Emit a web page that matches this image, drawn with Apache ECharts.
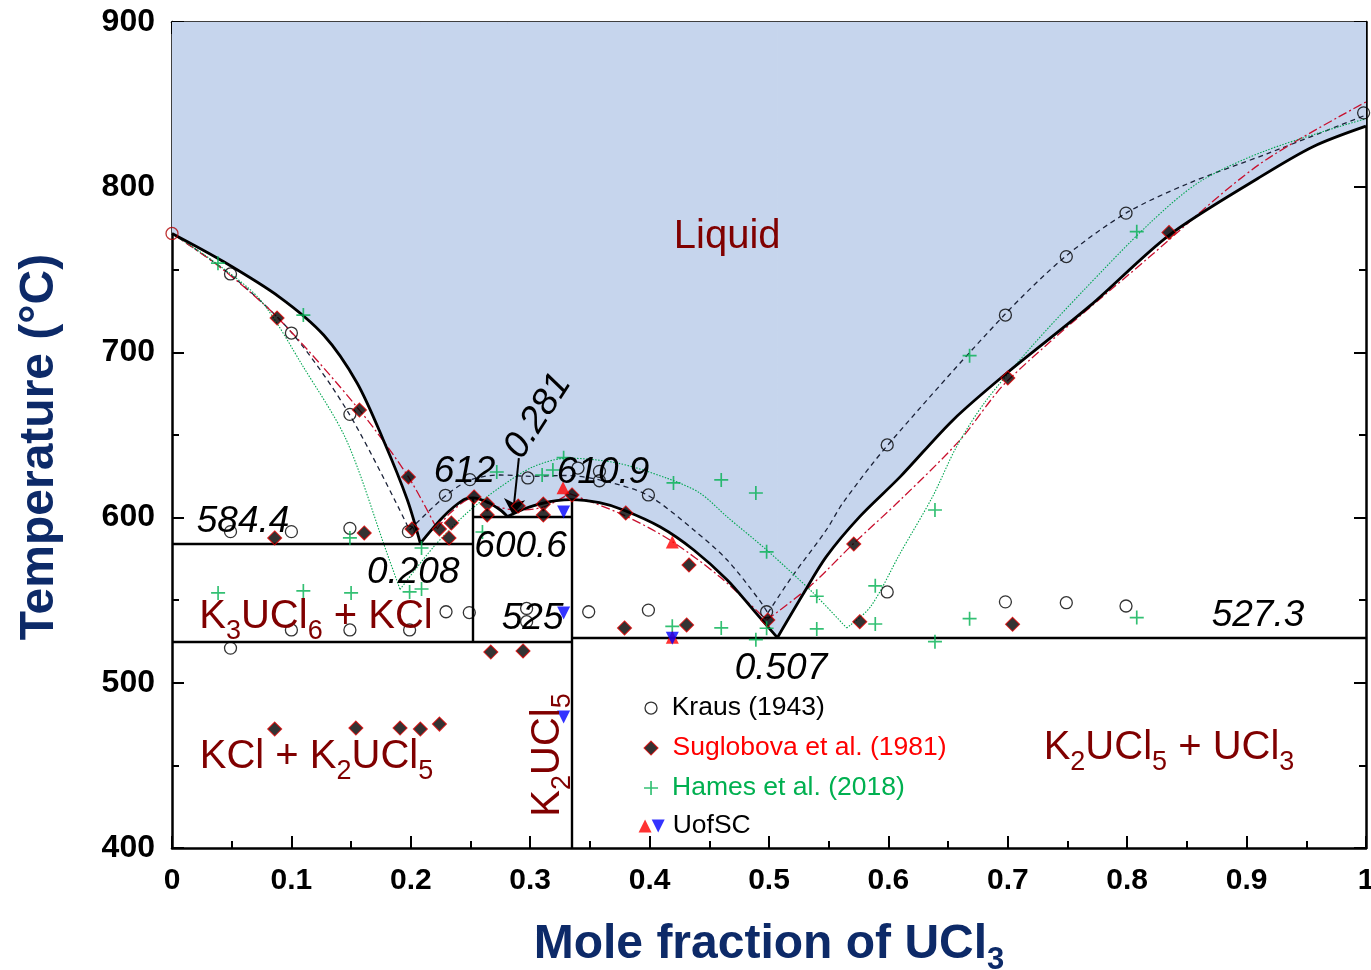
<!DOCTYPE html>
<html>
<head>
<meta charset="utf-8">
<title>KCl - UCl3 phase diagram</title>
<script src="https://cdn.jsdelivr.net/npm/echarts@6/dist/echarts.min.js"></script>
<style>
  html, body { margin: 0; padding: 0; background: #fff; }
  #main { width: 1371px; height: 970px; }
</style>
</head>
<body>
<div id="main"></div>
<script>
// liquidus (calculated), one array per branch so the eutectic corners stay sharp
var liqKCl = [[0, 772], [0.043, 755], [0.09, 733.5], [0.127, 710.5], [0.155, 681.5], [0.177, 647], [0.197, 611], [0.208, 584.4]];
var liqK3 = [[0.208, 584.4], [0.227, 600.4], [0.244, 610.7], [0.252, 612], [0.264, 609.5], [0.275, 604.6], [0.281, 600.6]];
var liqK2 = [[0.281, 600.6], [0.297, 605.8], [0.311, 608.8], [0.322, 610.3], [0.334, 610.9], [0.358, 609], [0.378, 604.6],
             [0.409, 594.3], [0.437, 580.4], [0.465, 562.2], [0.487, 544], [0.507, 527.3]];
var liqUCl3 = [[0.507, 527.3], [0.529, 554.2], [0.548, 576.4], [0.576, 600.6], [0.61, 624.8], [0.654, 659], [0.70, 688],
               [0.769, 728.3], [0.835, 770.9], [0.91, 805.6], [0.956, 824.7], [1, 837]];

// invariant lines and compound lines
var invariants = [
  [[0, 584.4], [0.2515, 584.4]],
  [[0, 525], [0.335, 525]],
  [[0.2515, 525], [0.2515, 612]],
  [[0.2515, 600.6], [0.335, 600.6]],
  [[0.335, 400], [0.335, 610.9]],
  [[0.335, 527.3], [1, 527.3]]
];

// earlier assessments (lines)
var krausFitA = [[0, 772], [0.049, 747], [0.1005, 711.7], [0.149, 662], [0.199, 592.5]];
var krausFitB = [[0.199, 592.5], [0.23, 613.7], [0.25, 622.8], [0.275, 625.8], [0.3, 625], [0.33, 625.5], [0.358, 622.8],
                 [0.398, 613.7], [0.437, 592.5], [0.465, 574.3], [0.492, 550], [0.499, 542.3]];
var krausFitC = [[0.499, 542.3], [0.52, 565], [0.548, 592.5], [0.562, 609], [0.599, 643.5], [0.697, 722.6], [0.749, 758.5],
                 [0.799, 784.3], [0.851, 802.2], [0.917, 820.2], [1, 843.7]];

var sugFitA = [[0, 772], [0.04, 751.7], [0.088, 721.4], [0.157, 665.1], [0.198, 624.6], [0.222, 593]];
var sugFitB = [[0.222, 593], [0.233, 602.8], [0.252, 611.8], [0.27, 607], [0.289, 604.6], [0.311, 606.4], [0.333, 614.5]];
var sugFitC = [[0.333, 614.5], [0.378, 601.6], [0.417, 586.4], [0.459, 564], [0.498, 538]];
var sugFitD = [[0.498, 538], [0.534, 558.2], [0.571, 584.4], [0.61, 610.7], [0.66, 647], [0.70, 683], [0.818, 757.4],
               [0.91, 813.5], [1, 851.6]];

var hamFitA = [[0, 772], [0.037, 754], [0.074, 731.7], [0.11, 691.2], [0.146, 647], [0.18, 578.6], [0.191, 556.5]];
var hamFitB = [[0.191, 556.5], [0.219, 582.2], [0.247, 602.8], [0.275, 618.5], [0.302, 630.6], [0.331, 636], [0.373, 633],
               [0.414, 624], [0.442, 614.9], [0.465, 600.4], [0.498, 580.4], [0.537, 554.4], [0.565, 533.2]];
var hamFitC = [[0.565, 533.2], [0.585, 546], [0.61, 578.6], [0.637, 612.7], [0.657, 642.8], [0.681, 670], [0.72, 703.6],
               [0.763, 737.2], [0.818, 777.6], [0.861, 803.4], [0.917, 822.4], [1, 841.5]];

// experimental points
var kraus = [[0, 772], [0.049, 747.5], [0.1, 711.7], [0.149, 662.5], [0.198, 591.5],
  [0.049, 591.5], [0.1, 591.5], [0.149, 593.5],
  [0.049, 521], [0.1, 532], [0.149, 532], [0.199, 532],
  [0.229, 613.5], [0.2495, 623], [0.2295, 543], [0.249, 542.5],
  [0.298, 624], [0.297, 545], [0.297, 537],
  [0.34, 630], [0.358, 628], [0.358, 622.3],
  [0.349, 543], [0.399, 613.7], [0.399, 544],
  [0.498, 543], [0.599, 644], [0.698, 722.6], [0.749, 758], [0.799, 784.3], [0.998, 845],
  [0.599, 555], [0.698, 549], [0.749, 548.5], [0.799, 546.5]];

var suglobova = [[0.088, 720.8], [0.157, 665.1], [0.198, 624.6],
  [0.086, 587.7], [0.161, 590.7], [0.201, 593.1], [0.224, 593.1], [0.234, 596.7], [0.232, 587.7],
  [0.253, 612.5], [0.264, 608.2], [0.264, 601.6], [0.29, 607], [0.311, 608.2], [0.311, 601.6], [0.335, 613.7],
  [0.38, 602.8], [0.433, 571.3], [0.379, 533.2], [0.431, 535], [0.499, 538],
  [0.571, 584], [0.576, 537], [0.70, 684.5], [0.835, 772.6], [0.704, 535.4],
  [0.267, 518.6], [0.294, 519.3],
  [0.086, 472], [0.154, 472.6], [0.191, 472.6], [0.208, 472], [0.224, 475]];

var hames = [[0.0385, 754], [0.11, 722.6], [0.149, 587.7], [0.209, 581.6],
  [0.0386, 554.4], [0.11, 555.6], [0.15, 554.4], [0.199, 555], [0.209, 556.8],
  [0.26, 591.3], [0.272, 627.6], [0.31, 625.8], [0.319, 628.8], [0.328, 636.3],
  [0.42, 621], [0.46, 622.8], [0.489, 614.9], [0.498, 579.3], [0.54, 552.4], [0.589, 558.7], [0.639, 604.6],
  [0.668, 698], [0.808, 773.1],
  [0.419, 534.2], [0.46, 533.2], [0.498, 533], [0.54, 532.6], [0.589, 535.6], [0.489, 526.1], [0.639, 524.9],
  [0.668, 538.8], [0.808, 539.5]];

var uscUp = [[0.3275, 618], [0.419, 585.2], [0.419, 527.5]];
var uscDown = [[0.328, 603.4], [0.328, 542.3], [0.328, 479.3], [0.419, 527]];

// text annotations [x, T, text]
var numNotes = [[0.0595, 597.3, '584.4'], [0.245, 627.6, '612'], [0.361, 627, '610.9'], [0.292, 582.2, '600.6'],
  [0.202, 566.5, '0.208'], [0.302, 538.6, '525'], [0.9095, 540.4, '527.3'], [0.51, 508.4, '0.507']];
var phaseNotes = [[0.1206, 539.8, '{n|K}{s|3}{n|UCl}{s|6}{n| + KCl}', 0],
  [0.121, 455, '{n|KCl + K}{s|2}{n|UCl}{s|5}', 0],
  [0.835, 460.5, '{n|K}{s|2}{n|UCl}{s|5}{n| + UCl}{s|3}', 0],
  [0.315, 456.3, '{n|K}{s|2}{n|UCl}{s|5}', 90]];
var legendRows = [['Kraus (1943)', '#000'], ['Suglobova et al. (1981)', '#ff0000'], ['Hames et al. (2018)', '#00b050'], ['UofSC', '#000']];
var legendX = 0.4012, legendT = [484.7, 460.5, 436.3, 413.3];

var FONT = '"Liberation Sans", Arial, sans-serif';
var DARKRED = '#800000';
var NAVY = '#0d2a68';
var PLUS = 'path://M4.4,0H5.6V4.4H10V5.6H5.6V10H4.4V5.6H0V4.4H4.4Z';
var NOBORDER = { textBorderWidth: 0, textBorderColor: 'transparent', opacity: 1 };

var myChart = echarts.init(document.getElementById('main'), null, { renderer: 'canvas' });

// blue liquid field: each branch filled up to 900, drawn a few times so the joins between branches do not show
function liqFill(data) {
  return { type: 'line', data: data, smooth: 0.3, symbol: 'none', silent: true, z: 1,
    lineStyle: { width: 0, opacity: 0 },
    areaStyle: { origin: 'end', color: '#c6d5ed', opacity: 1 } };
}
function liq(data) {
  return { type: 'line', data: data, smooth: 0.3, symbol: 'none', silent: true, z: 3,
    lineStyle: { color: '#000', width: 2.8 } };
}
function fit(data, color, width, dash) {
  return { type: 'line', data: data, smooth: 0.3, symbol: 'none', silent: true, z: 2,
    lineStyle: { color: color, width: width, type: dash } };
}

var branches = [liqKCl, liqK3, liqK2, liqUCl3];
var series = [];
[0, 1, 2].forEach(function () {
  branches.forEach(function (b) { series.push(liqFill(b)); });
});
branches.forEach(function (b) { series.push(liq(b)); });

var KD = [5, 4], SD = [9, 3, 2, 3], HD = [1.5, 1.5];
series.push(
  fit(krausFitA, '#1b2238', 1.3, KD), fit(krausFitB, '#1b2238', 1.3, KD), fit(krausFitC, '#1b2238', 1.3, KD),
  fit(sugFitA, '#c8102e', 1.3, SD), fit(sugFitB, '#c8102e', 1.3, SD),
  fit(sugFitC, '#c8102e', 1.3, SD), fit(sugFitD, '#c8102e', 1.3, SD),
  fit(hamFitA, '#00a651', 1.1, HD), fit(hamFitB, '#00a651', 1.1, HD), fit(hamFitC, '#00a651', 1.1, HD),
  { type: 'lines', coordinateSystem: 'cartesian2d', silent: true, z: 3,
    lineStyle: { color: '#000', width: 2.4, opacity: 1 },
    data: invariants.map(function (c) { return { coords: c }; }) },
  { type: 'lines', coordinateSystem: 'cartesian2d', silent: true, z: 3,
    symbol: ['none', 'arrow'], symbolSize: 16,
    lineStyle: { color: '#000', width: 2, opacity: 1 },
    data: [{ coords: [[0.2905, 636], [0.2855, 601.5]] }] },
  { type: 'scatter', symbol: 'circle', symbolSize: 12, silent: true, z: 5,
    data: kraus.map(function (p, k) {
      return k === 0 ? { value: p, itemStyle: { borderColor: '#b00000' } } : p;
    }),
    itemStyle: { color: 'rgba(0,0,0,0)', borderColor: '#000', borderWidth: 1.3 } },
  { type: 'scatter', data: suglobova, symbol: 'diamond', symbolSize: 14, silent: true, z: 5,
    itemStyle: { color: '#000', borderColor: '#e00000', borderWidth: 1.1 } },
  { type: 'scatter', data: hames, symbol: PLUS, symbolSize: 14, silent: true, z: 5,
    itemStyle: { color: '#00b050' } },
  { type: 'scatter', data: uscUp, symbol: 'triangle', symbolSize: 13, silent: true, z: 5,
    itemStyle: { color: '#ff0000' } },
  { type: 'scatter', data: uscDown, symbol: 'triangle', symbolRotate: 180, symbolSize: 13, silent: true, z: 5,
    itemStyle: { color: '#0000ff' } }
);

// numbers on the diagram
var notes = numNotes.map(function (n) {
  return { value: [n[0], n[1]], label: { formatter: n[2] } };
});
notes.push({ value: [0.3065, 661.5], label: { formatter: '0.281', rotate: 57 } });
series.push({ type: 'scatter', data: notes, symbolSize: 0, silent: true, z: 6,
  label: Object.assign({ show: true, position: 'inside', color: '#000', fontSize: 37, fontStyle: 'italic', fontFamily: FONT }, NOBORDER) });

// phase field names
var phases = phaseNotes.map(function (p) {
  return { value: [p[0], p[1]], label: { formatter: p[2], rotate: p[3] } };
});
phases.push({ value: [0.465, 770], label: { formatter: '{n|Liquid}' } });
series.push({ type: 'scatter', data: phases, symbolSize: 0, silent: true, z: 6,
  label: Object.assign({ show: true, position: 'inside', fontFamily: FONT, color: DARKRED,
    rich: { n: { fontSize: 40, color: DARKRED, fontFamily: FONT, lineHeight: 56 },
            s: { fontSize: 27, color: DARKRED, fontFamily: FONT, verticalAlign: 'bottom' } } }, NOBORDER) });

// legend block
var legendMarks = [
  { value: [legendX, legendT[0]], symbol: 'circle', symbolSize: 12,
    itemStyle: { color: 'rgba(0,0,0,0)', borderColor: '#000', borderWidth: 1.3 } },
  { value: [legendX, legendT[1]], symbol: 'diamond', symbolSize: 14,
    itemStyle: { color: '#000', borderColor: '#e00000', borderWidth: 1.1 } },
  { value: [legendX, legendT[2]], symbol: PLUS, symbolSize: 14, itemStyle: { color: '#00b050' } },
  { value: [legendX - 0.005, legendT[3]], symbol: 'triangle', symbolSize: 13, itemStyle: { color: '#ff0000' } },
  { value: [legendX + 0.006, legendT[3]], symbol: 'triangle', symbolRotate: 180, symbolSize: 13, itemStyle: { color: '#0000ff' } }
];
var rowOf = [0, 1, 2, -1, 3];
legendMarks.forEach(function (m, k) {
  if (rowOf[k] < 0) { m.label = { show: false }; return; }
  var r = legendRows[rowOf[k]];
  m.label = { show: true, formatter: r[0], color: r[1], distance: k === 4 ? 8 : 14 };
});
series.push({ type: 'scatter', data: legendMarks, silent: true, z: 6,
  label: Object.assign({ position: 'right', fontSize: 26.5, fontFamily: FONT }, NOBORDER) });

var axisCommon = {
  type: 'value',
  axisLine: { show: true, onZero: false, lineStyle: { color: '#000', width: 2.5 } },
  axisTick: { show: true, inside: true, length: 12, lineStyle: { color: '#000', width: 2 } },
  minorTick: { show: true, splitNumber: 2, length: 7, lineStyle: { color: '#000', width: 2 } },
  splitLine: { show: false },
  minorSplitLine: { show: false }
};

var option = {
  backgroundColor: '#fff',
  animation: false,
  grid: { left: 172, right: 5, top: 22, bottom: 122, outerBoundsMode: 'none', containLabel: false },
  xAxis: [
    Object.assign({}, axisCommon, {
      position: 'bottom', min: 0, max: 1, interval: 0.1,
      axisLabel: { margin: 18, color: '#000', fontSize: 30, fontWeight: 'bold', fontFamily: FONT,
        formatter: function (v) { return v === 0 ? '0' : v === 1 ? '1' : v.toFixed(1); } },
      name: 'Mole fraction of UCl{s|3}', nameLocation: 'middle', nameGap: 66,
      nameTextStyle: { fontSize: 48, fontWeight: 'bold', color: NAVY, fontFamily: FONT, lineHeight: 62,
        rich: { s: { fontSize: 31, fontWeight: 'bold', color: NAVY, fontFamily: FONT, verticalAlign: 'bottom' } } }
    }),
    Object.assign({}, axisCommon, {
      position: 'top', min: 0, max: 1, interval: 0.1, axisLabel: { show: false }
    })
  ],
  yAxis: [
    Object.assign({}, axisCommon, {
      position: 'left', min: 400, max: 900, interval: 100,
      axisLabel: { margin: 17, color: '#000', fontSize: 32, fontWeight: 'bold', fontFamily: FONT },
      name: 'Temperature (°C)', nameLocation: 'middle', nameGap: 108,
      nameTextStyle: { fontSize: 48, fontWeight: 'bold', color: NAVY, fontFamily: FONT, padding: [0, 24, 0, 0] }
    }),
    Object.assign({}, axisCommon, {
      position: 'right', min: 400, max: 900, interval: 100, axisLabel: { show: false }
    })
  ],
  series: series
};

myChart.setOption(option);
</script>
</body>
</html>
